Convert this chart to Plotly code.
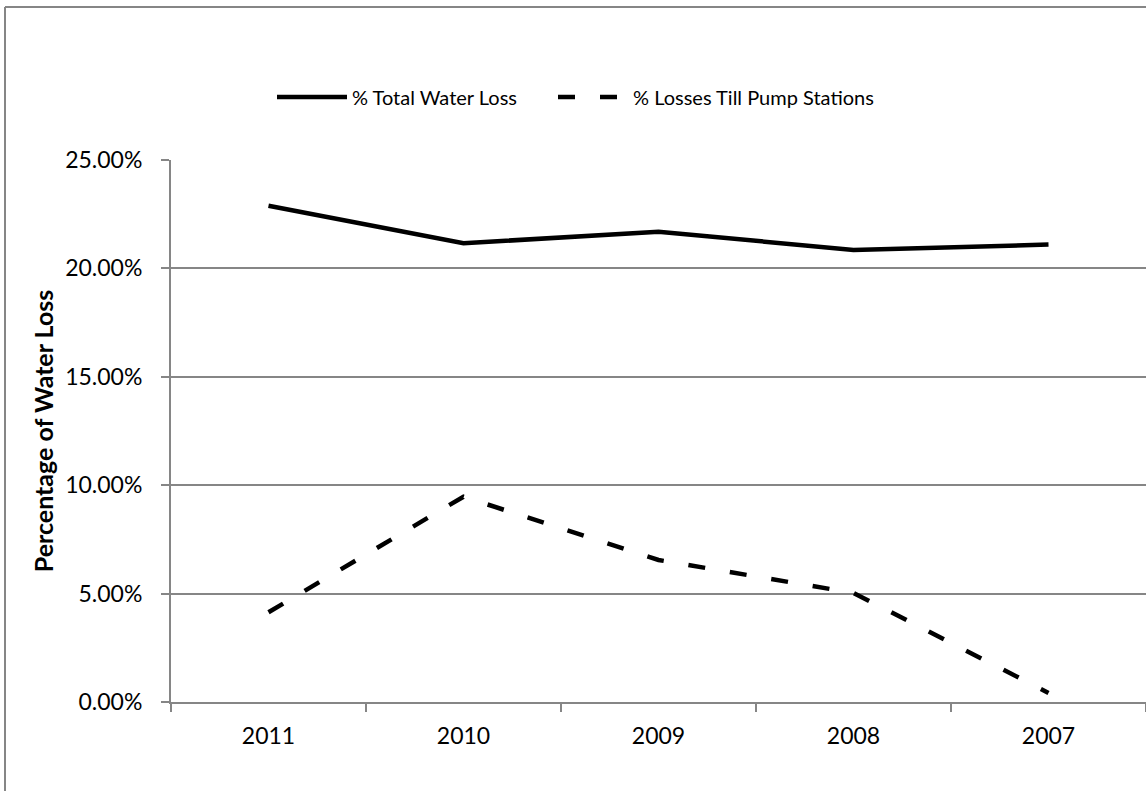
import plotly.graph_objects as go

# Reporting years (newest first, as plotted left to right)
years = ["2011", "2010", "2009", "2008", "2007"]

# Water loss percentages
total_water_loss = [22.89, 21.16, 21.69, 20.85, 21.10]
losses_till_pump_stations = [4.14, 9.47, 6.55, 5.03, 0.42]

y_ticks = [0, 5, 10, 15, 20, 25]

GRID = "#868686"
FONT = "Lato"

fig = go.Figure()

fig.add_trace(go.Scatter(
    x=years, y=total_water_loss, mode="lines",
    name="% Total Water Loss",
    line=dict(color="black", width=4.5),
    legend="legend",
))
fig.add_trace(go.Scatter(
    x=years, y=losses_till_pump_stations, mode="lines",
    name="% Losses Till Pump Stations",
    line=dict(color="black", width=4.5, dash="17px,25px"),
    legend="legend2",
))

# Plot-area geometry in pixels, used to place the outer chart frame
W, H = 1146, 791
L, R, T, B = 171, 0, 160, 89
pw, ph = W - L - R, H - T - B


def px_x(px):
    return (px - L) / pw


def px_y(py):
    return (H - B - py) / ph


legend_style = dict(
    orientation="h",
    y=px_y(97), yanchor="middle", xanchor="left",
    font=dict(family=FONT, size=20, color="black"),
    itemwidth=70,
    bgcolor="rgba(0,0,0,0)",
)

fig.update_layout(
    width=W, height=H,
    margin=dict(l=L, r=R, t=T, b=B),
    paper_bgcolor="white", plot_bgcolor="white",
    font=dict(family=FONT, size=23, color="black"),
    showlegend=True,
    legend=dict(x=px_x(272), **legend_style),
    legend2=dict(x=px_x(553), **legend_style),
    xaxis=dict(
        type="category",
        categoryorder="array", categoryarray=years,
        range=[-0.5, 4.5],
        showline=True, linecolor=GRID, linewidth=2,
        ticks="outside", tickson="boundaries", ticklen=8,
        tickcolor=GRID, tickwidth=1.5,
        ticklabelstandoff=12,
        showgrid=False, zeroline=False,
        tickfont=dict(family=FONT, size=23, color="black"),
        fixedrange=True,
    ),
    yaxis=dict(
        range=[0, 25],
        tickvals=y_ticks,
        ticktext=[f"{v:.2f}%" for v in y_ticks],
        showline=True, linecolor=GRID, linewidth=2,
        ticks="outside", ticklen=8, tickcolor=GRID, tickwidth=1.5,
        ticklabelstandoff=14,
        showgrid=True, gridcolor=GRID, gridwidth=1.5,
        zeroline=False,
        tickfont=dict(family=FONT, size=23, color="black"),
        title=dict(
            text="<b>Percentage of Water Loss</b>",
            font=dict(family=FONT, size=25, color="black"),
            standoff=4,
        ),
        automargin=False,
        fixedrange=True,
    ),
    shapes=[
        # outer chart frame (left and top edges; the rest lies beyond the page)
        dict(type="line", xref="paper", yref="paper",
             x0=px_x(5), x1=px_x(5), y0=px_y(7), y1=px_y(H + 10),
             line=dict(color=GRID, width=2)),
        dict(type="line", xref="paper", yref="paper",
             x0=px_x(5), x1=px_x(W + 10), y0=px_y(7), y1=px_y(7),
             line=dict(color=GRID, width=2)),
    ],
)

fig.write_html("out.html")
